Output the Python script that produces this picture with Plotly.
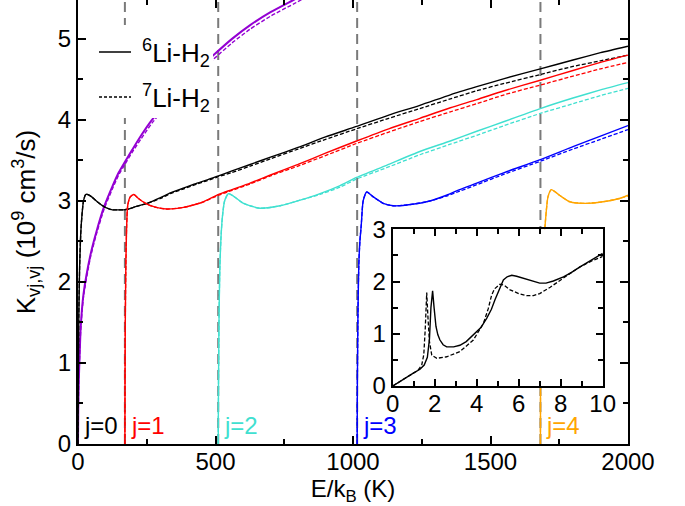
import plotly.graph_objects as go

# ---------------- data ----------------
# rotational thresholds of H2 (K)
thresholds = [170.5, 509.9, 1015.1, 1681.6]
j_labels = ["j=0", "j=1", "j=2", "j=3", "j=4"]
j_label_x = [0, 170.5, 509.9, 1015.1, 1681.6]
legend_names = ["<sup>6</sup>Li-H<sub>2</sub>", "<sup>7</sup>Li-H<sub>2</sub>"]

# purple (6Li solid / 7Li dashed)
E_p = [0, 1, 3, 6, 10, 20, 45, 67, 94, 124, 148, 172, 197, 230, 269, 350, 420, 493, 560, 626, 700, 783, 850]
K_p6 = [0, 0.45, 0.8, 1.1, 1.45, 1.85, 2.33, 2.62, 2.92, 3.17, 3.35, 3.49, 3.63, 3.81, 4.0, 4.32, 4.57, 4.80, 5.0, 5.17, 5.33, 5.48, 5.6]
K_p7 = [0, 0.44, 0.78, 1.08, 1.42, 1.82, 2.30, 2.59, 2.89, 3.14, 3.32, 3.46, 3.60, 3.77, 3.96, 4.28, 4.53, 4.75, 4.95, 5.12, 5.28, 5.43, 5.55]

# j=0 (black)
E_0 = [0, 1, 3, 6, 10, 15, 20, 28, 35, 50, 70, 90, 106, 125, 145, 165, 184, 210, 251, 300, 336, 385, 433, 470, 511,
       560, 626, 700, 800, 900, 1013, 1130, 1243, 1354, 1450, 1550, 1681, 1800, 1900, 2000]
K_0_6 = [0, 0.8, 1.6, 2.2, 2.6, 2.85, 3.0, 3.08, 3.08, 3.05, 2.99, 2.94, 2.91, 2.89, 2.89, 2.89, 2.90, 2.93, 2.97, 3.04,
         3.10, 3.16, 3.22, 3.26, 3.31, 3.37, 3.45, 3.54, 3.66, 3.79, 3.92, 4.06, 4.18, 4.31, 4.41, 4.51, 4.63, 4.74, 4.83, 4.91]
K_0_7 = [0, 0.8, 1.6, 2.2, 2.6, 2.85, 3.0, 3.08, 3.08, 3.05, 2.99, 2.94, 2.91, 2.89, 2.89, 2.89, 2.90, 2.93, 2.97, 3.03,
         3.09, 3.15, 3.21, 3.25, 3.30, 3.35, 3.43, 3.52, 3.64, 3.76, 3.89, 4.02, 4.14, 4.26, 4.36, 4.45, 4.56, 4.66, 4.73, 4.80]

# j=1 (red)
E_1 = [170.5, 171, 172, 174, 177, 181, 190, 203, 220, 251, 285, 324, 384, 420, 457, 511, 560, 626, 700, 800, 900,
       1013, 1130, 1243, 1354, 1450, 1550, 1681, 1800, 1900, 2000]
K_1_6 = [0, 0.8, 1.5, 2.2, 2.7, 2.95, 3.05, 3.08, 3.03, 2.96, 2.92, 2.90, 2.92, 2.95, 2.99, 3.08, 3.14, 3.22, 3.32, 3.45, 3.59,
         3.74, 3.89, 4.02, 4.15, 4.25, 4.36, 4.49, 4.61, 4.71, 4.80]
K_1_7 = [0, 0.8, 1.5, 2.2, 2.7, 2.95, 3.05, 3.08, 3.03, 2.96, 2.92, 2.90, 2.92, 2.95, 2.99, 3.07, 3.13, 3.21, 3.31, 3.43, 3.56,
         3.71, 3.85, 3.98, 4.10, 4.20, 4.31, 4.43, 4.54, 4.63, 4.71]

# j=2 (turquoise)
E_2 = [509.9, 511, 513, 516, 520, 525, 533, 547, 565, 602, 662, 735, 808, 880, 953, 1013, 1122, 1243, 1354, 1450, 1550,
       1681, 1800, 1900, 2000]
K_2_6 = [0, 0.8, 1.6, 2.2, 2.55, 2.8, 3.0, 3.09, 3.06, 2.97, 2.91, 2.94, 3.01, 3.09, 3.19, 3.29, 3.44, 3.61, 3.74, 3.86, 3.98,
         4.14, 4.27, 4.37, 4.46]
K_2_7 = [0, 0.8, 1.6, 2.2, 2.55, 2.8, 3.0, 3.09, 3.06, 2.97, 2.91, 2.94, 3.01, 3.08, 3.17, 3.27, 3.41, 3.57, 3.70, 3.81, 3.93,
         4.08, 4.20, 4.30, 4.39]

# j=3 (blue)
E_3 = [1015.1, 1016, 1018, 1021, 1025, 1030, 1037, 1050, 1074, 1110, 1146, 1195, 1268, 1340, 1388, 1450, 1550, 1681,
       1800, 1900, 2000]
K_3_6 = [0, 0.8, 1.6, 2.2, 2.5, 2.7, 3.0, 3.11, 3.05, 2.97, 2.94, 2.95, 2.99, 3.07, 3.14, 3.22, 3.35, 3.51, 3.67, 3.80, 3.93]
K_3_7 = [0, 0.8, 1.6, 2.2, 2.5, 2.7, 3.0, 3.11, 3.05, 2.97, 2.94, 2.95, 2.99, 3.06, 3.12, 3.20, 3.33, 3.49, 3.64, 3.76, 3.88]

# j=4 (orange)
E_4 = [1681.6, 1682, 1684, 1688, 1692, 1697, 1709, 1721, 1751, 1788, 1848, 1909, 1969, 2000]
K_4_6 = [0, 0.8, 1.6, 2.2, 2.45, 2.64, 3.05, 3.14, 3.07, 2.99, 2.97, 2.99, 3.03, 3.07]
K_4_7 = [0, 0.8, 1.6, 2.2, 2.45, 2.64, 3.05, 3.14, 3.07, 2.99, 2.97, 2.99, 3.03, 3.06]

# inset (low energy)
x_in6 = [0, 0.5, 1.0, 1.3, 1.5, 1.65, 1.75, 1.82, 1.9, 1.97, 2.06, 2.15, 2.25, 2.4, 2.57, 2.9, 3.2, 3.5, 3.84, 4.2,
         4.48, 4.7, 4.87, 5.1, 5.27, 5.45, 5.67, 5.9, 6.22, 6.6, 7.0, 7.3, 7.65, 8.13, 8.5, 8.92, 9.5, 10]
y_in6 = [0, 0.13, 0.25, 0.32, 0.40, 0.55, 0.9, 1.5, 1.82, 1.5, 1.14, 0.98, 0.88, 0.79, 0.75, 0.75, 0.78, 0.85, 0.98, 1.12,
         1.30, 1.47, 1.65, 1.88, 2.03, 2.09, 2.12, 2.10, 2.06, 2.01, 1.97, 1.97, 2.01, 2.09, 2.17, 2.28, 2.42, 2.54]
x_in7 = [0, 0.5, 1.0, 1.2, 1.38, 1.48, 1.55, 1.62, 1.68, 1.75, 1.86, 2.1, 2.57, 3.2, 3.84, 4.32, 4.55, 4.71, 4.85, 4.95,
         5.11, 5.3, 5.59, 6.0, 6.38, 6.7, 7.0, 7.5, 7.97, 8.5, 8.92, 9.5, 10]
y_in7 = [0, 0.13, 0.25, 0.30, 0.40, 0.6, 1.1, 1.79, 1.3, 0.85, 0.59, 0.53, 0.56, 0.66, 0.88, 1.2, 1.48, 1.74, 1.86, 1.90,
         1.95, 1.93, 1.84, 1.77, 1.73, 1.73, 1.77, 1.89, 2.03, 2.17, 2.28, 2.40, 2.48]

# ---------------- figure ----------------
YTOP = 5.48
FONT = "Liberation Sans, Arial, Helvetica, sans-serif"
GRAY = "#7a7a7a"
PURPLE = "#9400d3"
colors_j = ["black", "#ff0000", "#40e0d0", "#0000ff", "#ffa500"]
DASH7 = "4px,2px"

fig = go.Figure()

for t in thresholds:
    fig.add_trace(go.Scatter(x=[t, t], y=[0, YTOP], mode="lines",
                             line=dict(color=GRAY, width=2, dash="10px,6px"),
                             showlegend=False, hoverinfo="skip"))


def add(x, y, color, dash, width=1.4, xa="x", ya="y", shape="spline"):
    fig.add_trace(go.Scatter(x=x, y=y, mode="lines", xaxis=xa, yaxis=ya,
                             line=dict(color=color, width=width, dash=dash, shape=shape, smoothing=0.6),
                             showlegend=False, hoverinfo="skip"))


add(E_p, K_p6, PURPLE, "solid", 2)
add(E_p, K_p7, PURPLE, DASH7, 1.4)
series = [(E_0, K_0_6, K_0_7), (E_1, K_1_6, K_1_7), (E_2, K_2_6, K_2_7), (E_3, K_3_6, K_3_7), (E_4, K_4_6, K_4_7)]
for (E, k6, k7), c in zip(series, colors_j):
    add(E, k7, c, DASH7, 1.3)
    add(E, k6, c, "solid", 1.4)

# inset
add(x_in7, y_in7, "black", DASH7, 1.3, xa="x2", ya="y2", shape="linear")
add(x_in6, y_in6, "black", "solid", 1.4, xa="x2", ya="y2", shape="linear")

# dummy trace for the top tick axis
fig.add_trace(go.Scatter(x=[None], y=[None], xaxis="x3", yaxis="y", showlegend=False, hoverinfo="skip"))

for lab, xl, c in zip(j_labels, j_label_x, colors_j):
    fig.add_annotation(x=xl, y=0.23, xref="x", yref="y", text=lab, showarrow=False,
                       xanchor="left", yanchor="middle", xshift=4,
                       font=dict(size=24, color=c, family=FONT))

# hand-made legend box (opaque, hides curves behind it)
fig.add_shape(type="rect", xref="paper", yref="paper", x0=0.018, x1=0.2455, y0=0.734, y1=0.9437,
              fillcolor="white", line=dict(width=0), layer="above")
leg_y = [0.8829, 0.7815]
leg_dash = ["solid", "3px,2px"]
for yy, dd, nm in zip(leg_y, leg_dash, legend_names):
    fig.add_shape(type="line", xref="paper", yref="paper", x0=0.0382, x1=0.0964, y0=yy, y1=yy,
                  line=dict(color="black", width=1.3, dash=dd), layer="above")
    fig.add_annotation(x=0.1127, y=yy, xref="paper", yref="paper", text=nm, showarrow=False,
                       xanchor="left", yanchor="middle", yshift=-1,
                       font=dict(size=26, color="black", family=FONT))

axis_common = dict(showline=True, linewidth=2, linecolor="black", ticks="inside", tickwidth=2,
                   tickcolor="black", showgrid=False, zeroline=False, automargin=False,
                   tickfont=dict(size=24, family=FONT, color="black"))

fig.update_layout(
    width=685, height=506,
    margin=dict(l=78, r=57, t=0, b=62),
    paper_bgcolor="white", plot_bgcolor="white",
    font=dict(family=FONT, size=24, color="black"),
    showlegend=False,
    xaxis=dict(range=[0, 2000], tick0=0, dtick=500, ticklen=8, mirror=False, ticklabelstandoff=-5,
               minor=dict(ticks="inside", dtick=250, ticklen=5, tickwidth=1.5, tickcolor="black"),
               title=dict(text="E/k<sub>B</sub> (K)", font=dict(size=24, family=FONT), standoff=3),
               **axis_common),
    yaxis=dict(range=[0, YTOP], tick0=0, dtick=1, ticklen=8, mirror="ticks",
               minor=dict(ticks="inside", dtick=0.5, ticklen=5, tickwidth=1.5, tickcolor="black"),
               title=dict(text="K<sub>vj,vj</sub> (10<sup>9</sup> cm<sup>3</sup>/s)", font=dict(size=26, family=FONT)),
               **axis_common),
    xaxis3=dict(overlaying="x", side="top", anchor="y", range=[0, 2000], tick0=0, dtick=500,
                ticks="inside", ticklen=8, tickwidth=2, tickcolor="black", showticklabels=False,
                showline=False, showgrid=False, zeroline=False, automargin=False,
                minor=dict(ticks="inside", dtick=250, ticklen=5, tickwidth=1.5, tickcolor="black")),
    xaxis2=dict(domain=[0.5722, 0.954], anchor="y2", range=[0, 10], tick0=0, dtick=2, ticklen=7, mirror="ticks",
                ticklabelstandoff=-5,
                minor=dict(ticks="inside", dtick=1, ticklen=5, tickwidth=1.5, tickcolor="black"),
                **axis_common),
    yaxis2=dict(domain=[0.1306, 0.4836], anchor="x2", range=[0, 3], tick0=0, dtick=1, ticklen=7, mirror="ticks",
                minor=dict(ticks="inside", dtick=0.5, ticklen=5, tickwidth=1.5, tickcolor="black"),
                **axis_common),
)

fig.write_html("out.html")
